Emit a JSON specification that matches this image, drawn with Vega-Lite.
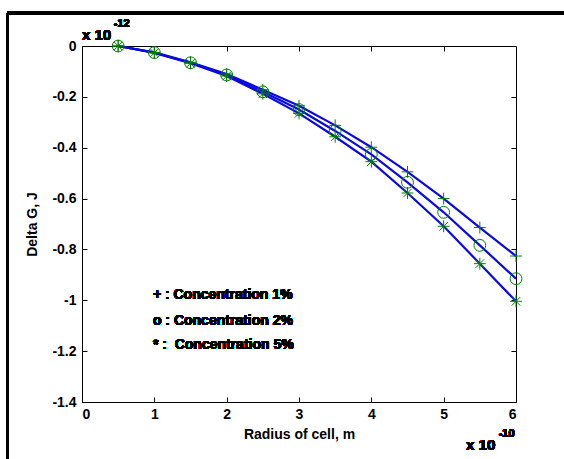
{
  "$schema": "https://vega.github.io/schema/vega-lite/v6.json",
  "width": 434,
  "height": 356,
  "autosize": "none",
  "padding": {"left": 82, "top": 46, "right": 48, "bottom": 57},
  "background": "white",
  "config": {
    "view": {"stroke": "black", "strokeWidth": 1},
    "font": "Liberation Sans",
    "axis": {
      "grid": false,
      "domainColor": "black",
      "domainWidth": 1,
      "tickColor": "black",
      "tickWidth": 1,
      "tickSize": -5,
      "labelFont": "Liberation Sans",
      "labelFontSize": 14,
      "labelFontWeight": "bold",
      "labelColor": "black",
      "titleFont": "Liberation Sans",
      "titleFontSize": 14,
      "titleFontWeight": "bold",
      "titleColor": "black"
    }
  },
  "data": {
    "values": [
      {"r": 0.5, "g": 0.0, "c": "1%"},
      {"r": 1.0, "g": -0.025, "c": "1%"},
      {"r": 1.5, "g": -0.064, "c": "1%"},
      {"r": 2.0, "g": -0.11, "c": "1%"},
      {"r": 2.5, "g": -0.172, "c": "1%"},
      {"r": 3.0, "g": -0.235, "c": "1%"},
      {"r": 3.5, "g": -0.312, "c": "1%"},
      {"r": 4.0, "g": -0.398, "c": "1%"},
      {"r": 4.5, "g": -0.495, "c": "1%"},
      {"r": 5.0, "g": -0.6, "c": "1%"},
      {"r": 5.5, "g": -0.714, "c": "1%"},
      {"r": 6.0, "g": -0.826, "c": "1%"},
      {"r": 0.5, "g": 0.0, "c": "2%"},
      {"r": 1.0, "g": -0.026, "c": "2%"},
      {"r": 1.5, "g": -0.066, "c": "2%"},
      {"r": 2.0, "g": -0.114, "c": "2%"},
      {"r": 2.5, "g": -0.18, "c": "2%"},
      {"r": 3.0, "g": -0.25, "c": "2%"},
      {"r": 3.5, "g": -0.334, "c": "2%"},
      {"r": 4.0, "g": -0.426, "c": "2%"},
      {"r": 4.5, "g": -0.536, "c": "2%"},
      {"r": 5.0, "g": -0.654, "c": "2%"},
      {"r": 5.5, "g": -0.784, "c": "2%"},
      {"r": 6.0, "g": -0.915, "c": "2%"},
      {"r": 0.5, "g": 0.0, "c": "5%"},
      {"r": 1.0, "g": -0.027, "c": "5%"},
      {"r": 1.5, "g": -0.068, "c": "5%"},
      {"r": 2.0, "g": -0.118, "c": "5%"},
      {"r": 2.5, "g": -0.188, "c": "5%"},
      {"r": 3.0, "g": -0.265, "c": "5%"},
      {"r": 3.5, "g": -0.357, "c": "5%"},
      {"r": 4.0, "g": -0.455, "c": "5%"},
      {"r": 4.5, "g": -0.578, "c": "5%"},
      {"r": 5.0, "g": -0.709, "c": "5%"},
      {"r": 5.5, "g": -0.856, "c": "5%"},
      {"r": 6.0, "g": -1.004, "c": "5%"}
    ]
  },
  "layer": [
    {
      "mark": {"type": "line", "color": "#0a0ae0", "strokeWidth": 2.2},
      "encoding": {
        "x": {"field": "r", "type": "quantitative",
          "scale": {"domain": [0, 6], "nice": false, "zero": false},
          "axis": {"orient": "bottom", "values": [0, 1, 2, 3, 4, 5, 6], "format": "d", "title": "Radius of cell, m", "labelPadding": 10, "titlePadding": 6}},
        "y": {"field": "g", "type": "quantitative",
          "scale": {"domain": [-1.4, 0], "nice": false, "zero": false},
          "axis": {"orient": "left", "values": [-1.4, -1.2, -1.0, -0.8, -0.6, -0.4, -0.2, 0], "labelExpr": "toString(round(datum.value*10)/10)", "title": "Delta G, J", "labelPadding": 11, "titlePadding": 12}},
        "detail": {"field": "c"}
      }
    },
    {
      "mark": {"type": "point", "filled": false, "stroke": "#008000", "strokeWidth": 1, "size": 140, "opacity": 1},
      "encoding": {
        "x": {"field": "r", "type": "quantitative",
          "scale": {"domain": [0, 6], "nice": false, "zero": false},
          "axis": {"orient": "top", "values": [1, 2, 3, 4, 5], "labels": false, "title": null, "domain": false}},
        "y": {"field": "g", "type": "quantitative",
          "scale": {"domain": [-1.4, 0], "nice": false, "zero": false},
          "axis": {"orient": "right", "values": [-1.2, -1.0, -0.8, -0.6, -0.4, -0.2], "labels": false, "title": null, "domain": false}},
        "shape": {"field": "c", "type": "nominal",
          "scale": {"domain": ["1%", "2%", "5%"], "range": ["M-1,0H1M0,-1V1", "circle", "M-1,0H1M0,-1V1M-0.72,-0.72L0.72,0.72M-0.72,0.72L0.72,-0.72"]},
          "legend": null}
      }
    },
    {
      "mark": {"type": "text", "align": "left", "baseline": "middle", "fontSize": 14, "fontWeight": "bold", "color": "black", "font": "Liberation Sans"},
      "encoding": {
        "x": {"datum": 0.98, "type": "quantitative", "scale": {"domain": [0, 6], "nice": false, "zero": false}, "axis": null},
        "y": {"datum": -0.98, "type": "quantitative", "scale": {"domain": [-1.4, 0], "nice": false, "zero": false}, "axis": null},
        "text": {"value": "+ : Concentration 1%"}
      }
    },
    {
      "mark": {"type": "text", "align": "left", "baseline": "middle", "fontSize": 14, "fontWeight": "bold", "color": "black", "font": "Liberation Sans"},
      "encoding": {
        "x": {"datum": 0.98, "type": "quantitative", "scale": {"domain": [0, 6], "nice": false, "zero": false}, "axis": null},
        "y": {"datum": -1.08, "type": "quantitative", "scale": {"domain": [-1.4, 0], "nice": false, "zero": false}, "axis": null},
        "text": {"value": "o : Concentration 2%"}
      }
    },
    {
      "mark": {"type": "text", "align": "left", "baseline": "middle", "fontSize": 14, "fontWeight": "bold", "color": "black", "font": "Liberation Sans"},
      "encoding": {
        "x": {"datum": 0.98, "type": "quantitative", "scale": {"domain": [0, 6], "nice": false, "zero": false}, "axis": null},
        "y": {"datum": -1.175, "type": "quantitative", "scale": {"domain": [-1.4, 0], "nice": false, "zero": false}, "axis": null},
        "text": {"value": "* :\u00a0 Concentration 5%"}
      }
    },
    {
      "mark": {"type": "text", "align": "left", "baseline": "middle", "fontSize": 15, "fontWeight": "bold", "color": "black", "font": "Liberation Sans"},
      "encoding": {
        "x": {"datum": 0.0, "type": "quantitative", "scale": {"domain": [0, 6], "nice": false, "zero": false}, "axis": null},
        "y": {"datum": 0.043, "type": "quantitative", "scale": {"domain": [-1.4, 0], "nice": false, "zero": false}, "axis": null},
        "text": {"value": "x 10"}
      }
    },
    {
      "mark": {"type": "text", "align": "left", "baseline": "middle", "fontSize": 11, "fontWeight": "bold", "color": "black", "font": "Liberation Sans"},
      "encoding": {
        "x": {"datum": 0.44, "type": "quantitative", "scale": {"domain": [0, 6], "nice": false, "zero": false}, "axis": null},
        "y": {"datum": 0.085, "type": "quantitative", "scale": {"domain": [-1.4, 0], "nice": false, "zero": false}, "axis": null},
        "text": {"value": "-12"}
      }
    },
    {
      "mark": {"type": "text", "align": "left", "baseline": "middle", "fontSize": 15, "fontWeight": "bold", "color": "black", "font": "Liberation Sans"},
      "encoding": {
        "x": {"datum": 5.31, "type": "quantitative", "scale": {"domain": [0, 6], "nice": false, "zero": false}, "axis": null},
        "y": {"datum": -1.57, "type": "quantitative", "scale": {"domain": [-1.4, 0], "nice": false, "zero": false}, "axis": null},
        "text": {"value": "x 10"}
      }
    },
    {
      "mark": {"type": "text", "align": "left", "baseline": "middle", "fontSize": 11, "fontWeight": "bold", "color": "black", "font": "Liberation Sans"},
      "encoding": {
        "x": {"datum": 5.76, "type": "quantitative", "scale": {"domain": [0, 6], "nice": false, "zero": false}, "axis": null},
        "y": {"datum": -1.527, "type": "quantitative", "scale": {"domain": [-1.4, 0], "nice": false, "zero": false}, "axis": null},
        "text": {"value": "-10"}
      }
    },
    {
      "mark": {"type": "rule", "color": "black", "strokeWidth": 2.5},
      "encoding": {
        "x": {"datum": -1.03, "type": "quantitative", "scale": {"domain": [0, 6], "nice": false, "zero": false}, "axis": null},
        "y": {"datum": 0.13, "type": "quantitative", "scale": {"domain": [-1.4, 0], "nice": false, "zero": false}, "axis": null},
        "y2": {"datum": -1.75}
      }
    },
    {
      "mark": {"type": "rule", "color": "black", "strokeWidth": 2.5},
      "encoding": {
        "x": {"datum": -1.03, "type": "quantitative", "scale": {"domain": [0, 6], "nice": false, "zero": false}, "axis": null},
        "x2": {"datum": 7.0},
        "y": {"datum": 0.13, "type": "quantitative", "scale": {"domain": [-1.4, 0], "nice": false, "zero": false}, "axis": null}
      }
    }
  ],
  "resolve": {"axis": {"x": "independent", "y": "independent"}}
}
